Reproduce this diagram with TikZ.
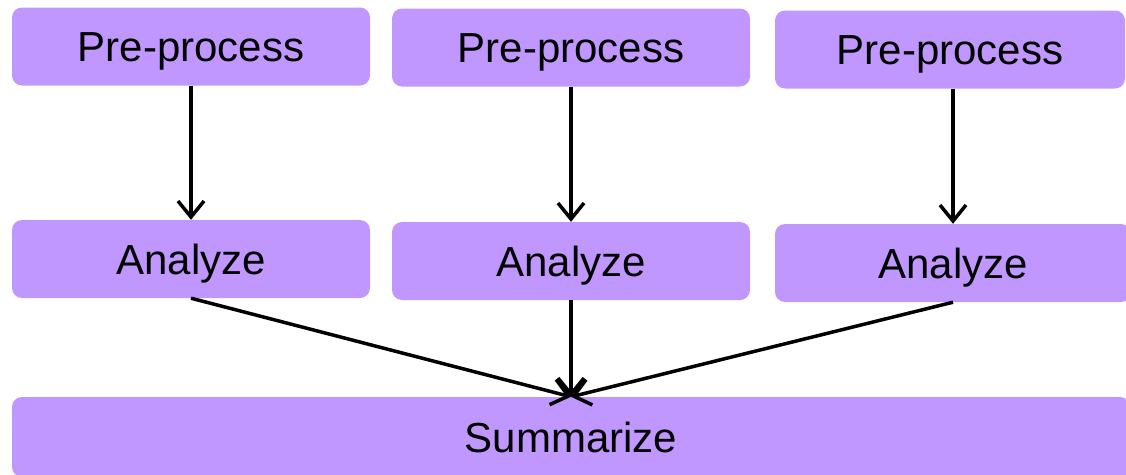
\documentclass[tikz,border=0pt]{standalone}
\usepackage{fontspec}
\setmainfont{Liberation Sans}
\usetikzlibrary{arrows.meta}
\definecolor{boxpurple}{RGB}{192,150,255}
\begin{document}
\begin{tikzpicture}[x=1pt, y=-1pt,
  box/.style={fill=boxpurple, rounded corners=10pt, inner sep=0pt, minimum height=78pt, text height=30pt, text depth=0pt, font=\fontsize{42}{50}\selectfont},
  link/.style={-{Straight Barb[length=16pt,width=26pt]}, line width=3.5pt}]
% frame
\path[use as bounding box, clip] (0,0) rectangle (1126,474);
% pre-process row
\node[box, minimum width=358pt] (pre1) at (191,46.5) {Pre-process};
\node[box, minimum width=358pt] (pre2) at (571,47.5) {Pre-process};
\node[box, minimum width=350pt] (pre3) at (950,49.5) {Pre-process};
% analyze row
\node[box, minimum width=358pt] (ana1) at (191,259) {Analyze};
\node[box, minimum width=358pt] (ana2) at (571,261) {Analyze};
\node[box, minimum width=356pt] (ana3) at (953,263) {Analyze};
% summarize
\node[box, minimum width=1118pt, minimum height=80pt] (sum) at (571,437) {Summarize};
% arrows
\draw[link] (pre1.south) -- (ana1.north);
\draw[link] (pre2.south) -- (ana2.north);
\draw[link] (ana3.north |- pre3.south) -- (ana3.north);
\draw[link] (ana1.south) -- (sum.north);
\draw[link] (ana2.south) -- (sum.north);
\draw[link] (ana3.south) -- (sum.north);
\end{tikzpicture}
\end{document}
